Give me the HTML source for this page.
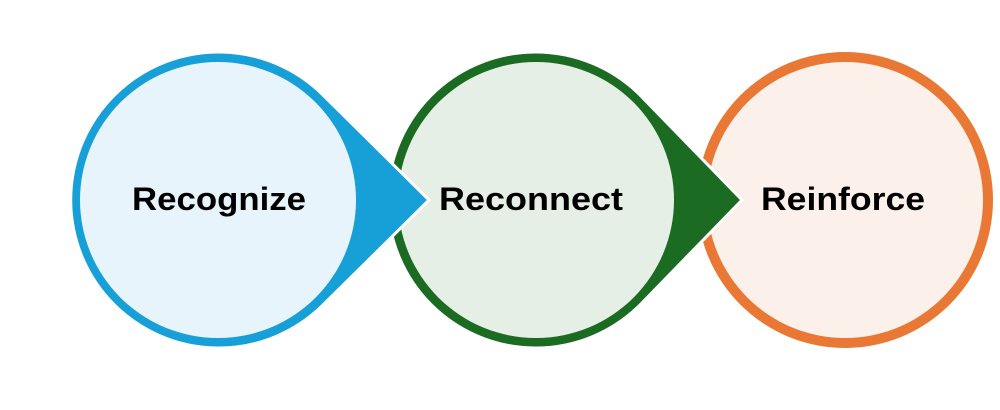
<!DOCTYPE html>
<html><head><style>html,body{margin:0;padding:0;background:#fff;}svg{display:block}</style></head>
<body>
<svg width="1000" height="410" viewBox="0 0 1000 410" xmlns="http://www.w3.org/2000/svg">
<!-- orange -->
<circle cx="845" cy="200" r="148" fill="#e87833"/>
<circle cx="845" cy="200" r="138" fill="#fcf0ea"/>
<!-- green -->
<path d="M742,200 L639,306 A148,148 0 1 1 639,94 Z" fill="#1b6b23" stroke="#fff" stroke-width="3" stroke-linejoin="miter"/>
<circle cx="536" cy="200" r="138" fill="#e6efe6"/>
<!-- blue -->
<path d="M429,200 L322,306 A148,148 0 1 1 322,94 Z" fill="#17a0d8" stroke="#fff" stroke-width="3" stroke-linejoin="miter"/>
<circle cx="218" cy="200" r="138" fill="#e8f4fb"/>
<g font-family="Liberation Sans, sans-serif" font-weight="bold" font-size="32" fill="#000" text-anchor="middle">
<text x="219" y="210" textLength="174" lengthAdjust="spacingAndGlyphs">Recognize</text>
<text x="531" y="210" textLength="184" lengthAdjust="spacingAndGlyphs">Reconnect</text>
<text x="843" y="210" textLength="164" lengthAdjust="spacingAndGlyphs">Reinforce</text>
</g>
</svg>
</body></html>
